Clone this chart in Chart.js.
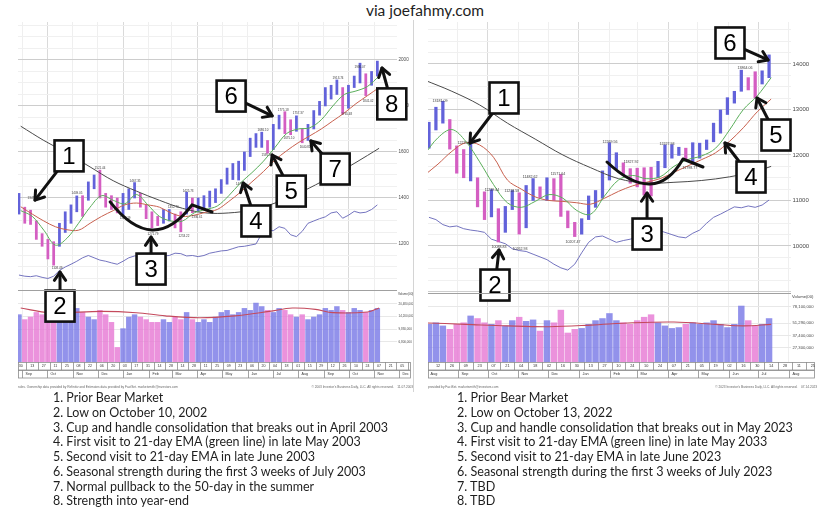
<!DOCTYPE html>
<html lang="en">
<head>
<meta charset="utf-8">
<title>Nasdaq 2002-2003 vs 2022-2023</title>
<script src="https://cdn.jsdelivr.net/npm/chart.js@4.4.1/dist/chart.umd.min.js"></script>
<style>
  html, body { margin: 0; padding: 0; background: #fff; }
  body { position: relative; width: 818px; height: 508px; overflow: hidden; font-family: Lato, "Open Sans", sans-serif; color: #1e1e1e; }
  #title { position: absolute; top: 1px; left: 16px; width: 818px; text-align: center; font-size: 15.5px; }
  canvas { position: absolute; top: 20px; }
  #c2002 { left: 0; }
  #c2023 { left: 414px; }
  #divider { position: absolute; left: 413px; top: 20px; width: 1px; height: 372px; background: #d4d4d4; }
  .notes { position: absolute; top: 390px; width: max-content; font-size: 13.5px; line-height: 14.76px; transform-origin: 0 0; white-space: nowrap; }
  #n2002 { left: 53px; }
  #n2023 { left: 457px; }
</style>
</head>
<body>
<div id="title">via joefahmy.com</div>
<canvas id="c2002" width="414" height="372"></canvas>
<canvas id="c2023" width="404" height="372"></canvas>
<div id="divider"></div>
<div id="n2002" class="notes">
  <div>1. Prior Bear Market</div>
  <div>2. Low on October 10, 2002</div>
  <div>3. Cup and handle consolidation that breaks out in April 2003</div>
  <div>4. First visit to 21-day EMA (green line) in late May 2003</div>
  <div>5. Second visit to 21-day EMA in late June 2003</div>
  <div>6. Seasonal strength during the first 3 weeks of July 2003</div>
  <div>7. Normal pullback to the 50-day in the summer</div>
  <div>8. Strength into year-end</div>
</div>
<div id="n2023" class="notes">
  <div>1. Prior Bear Market</div>
  <div>2. Low on October 13, 2022</div>
  <div>3. Cup and handle consolidation that breaks out in May 2023</div>
  <div>4. First visit to 21-day EMA (green line) in late May 2033</div>
  <div>5. Second visit to 21-day EMA in late June 2023</div>
  <div>6. Seasonal strength during the first 3 weeks of July 2023</div>
  <div>7. TBD</div>
  <div>8. TBD</div>
</div>
<script>
// ---------- 2002-2003 Nasdaq, one entry per week (week 0 = Fri 30 Aug 2002) ----------
const dayTicks2002 = ["30","13","27","11","25","08","22","06","20","03","17","31","14","28","14","28","11","25",
  "09","23","06","20","04","18","01","15","29","12","26","10","24","07","21","05","19"];
const monthNames2002 = ["Sep","Oct","Nov","Dec","Jan","Feb","Mar","Apr","May","Jun","Jul","Aug","Sep","Oct","Nov","Dec"];
const monthStarts2002 = [0.29, 4.57, 9, 13.29, 17.71, 22.14, 26.14, 30.57, 34.86, 39.29, 43.57, 48, 52.43, 56.71, 61.14, 65.43];
const priceLabels2002 = [1200, 1400, 1600, 1800, 2000];

const high2002 = [1420, 1360, 1347, 1300, 1245, 1220, 1210, 1290, 1340, 1370,
  1409, 1410, 1470, 1500, 1521, 1420, 1410, 1400, 1420, 1440,
  1467, 1420, 1370, 1340, 1320, 1350, 1350, 1330, 1340, 1425,
  1400, 1400, 1410, 1430, 1440, 1480, 1530, 1550, 1560, 1600,
  1660, 1680, 1686, 1650, 1720, 1760, 1775, 1740, 1757, 1700,
  1720, 1780, 1820, 1880, 1890, 1913, 1880, 1890, 1930, 1986,
  1940, 1950, 1995];
const low2002 = [1330, 1290, 1285, 1220, 1190, 1135, 1108, 1190, 1250, 1290,
  1340, 1320, 1390, 1440, 1400, 1360, 1350, 1335, 1327, 1350,
  1400, 1360, 1310, 1271, 1280, 1290, 1300, 1270, 1253, 1330,
  1336, 1340, 1350, 1360, 1380, 1420, 1460, 1480, 1478, 1520,
  1580, 1620, 1620, 1595, 1610, 1700, 1680, 1675, 1690, 1640,
  1650, 1700, 1760, 1800, 1830, 1850, 1765, 1790, 1880, 1900,
  1845, 1890, 1930];
// volume in millions of shares
const volume2002 = [15, 13, 14, 16, 15, 17, 19, 21, 17, 16,
  18, 16, 14, 13, 17, 15, 12, 5.8, 10, 14,
  15, 14, 13, 12, 12, 13, 12, 14, 13, 16,
  13, 12, 13, 12, 14, 16, 17, 15, 16, 18,
  17, 21, 19, 17, 16, 18, 17, 15, 14, 15,
  13, 14, 15, 18, 17, 19, 17, 16, 18, 17,
  16, 17, 18];
const rs2002 = [1065, 1060, 1058, 1062, 1055, 1050, 1060, 1085, 1100, 1112,
  1125, 1140, 1150, 1140, 1130, 1125, 1118, 1112, 1125, 1140,
  1148, 1150, 1158, 1160, 1155, 1148, 1150, 1160, 1158, 1148,
  1150, 1145, 1150, 1160, 1165, 1170, 1172, 1180, 1188, 1190,
  1195, 1200, 1245, 1262, 1258, 1275, 1268, 1240, 1232, 1255,
  1290, 1300, 1310, 1318, 1335, 1340, 1312, 1325, 1342, 1335,
  1338, 1350, 1370];
const maWeeks2002 = [0, 2, 4, 6, 8, 10, 12, 14, 16, 18, 20, 22, 24, 26, 28, 30,
  32, 34, 36, 38, 40, 42, 44, 46, 48, 50, 52, 54, 56, 58, 60, 62];
const ema21_2002 = [1345, 1320, 1260, 1195, 1225, 1290, 1360, 1410, 1390, 1375, 1415, 1370, 1320, 1300, 1300, 1335,
  1350, 1365, 1410, 1465, 1510, 1560, 1620, 1680, 1700, 1705, 1740, 1800, 1850, 1865, 1885, 1930];
const ma50_2002 = [1362, 1330, 1300, 1275, 1262, 1260, 1290, 1320, 1345, 1370, 1378, 1370, 1360, 1335, 1320, 1325,
  1338, 1350, 1385, 1425, 1470, 1515, 1565, 1605, 1640, 1670, 1700, 1735, 1770, 1810, 1845, 1880];
const ma200Weeks2002 = [0, 4, 8, 12, 16, 20, 24, 28, 32, 36, 40, 44, 48, 52, 56, 60, 62];
const ma200_2002 = [1712, 1650, 1595, 1535, 1475, 1430, 1390, 1355, 1335, 1335, 1348, 1378, 1420, 1470, 1525, 1585, 1616];
const volAvgWeeks2002 = [0, 5, 14, 20, 25, 31, 37, 43, 47, 51, 54, 60, 62];
const volAvg2002 = [18.2, 15.9, 16.5, 15.9, 14.5, 13.7, 14.5, 16.5, 18.2, 17.5, 15.9, 16.2, 18.2];
const volTicks2002 = [6.8, 9.83, 14.2, 20.48];
const peaks2002 = [[2.13, 1400, "1347.27"], [6.28, 1096, "1108.49"], [9.74, 1422, "1409.05"], [13.72, 1530, "1521.44"],
  [18.06, 1313, "1327.19"], [19.78, 1474, "1467.35"], [22.89, 1243, "1271.79"], [26.4, 1361, "1352.70"],
  [28.25, 1235, "1253.22"], [28.95, 1430, "1425.73"], [30.5, 1317, "1336.61"], [37.8, 1461, "1478"],
  [41.9, 1696, "1686.10"], [42.6, 1587, "1595.80"], [45.4, 1783, "1775.18"], [46.4, 1661, "1675.10"],
  [48, 1770, "1757.37"], [49.2, 1622, "1640.81"], [54.9, 1922, "1913.74"], [56.4, 1765, "1765.48"],
  [58.7, 1970, "1986.07"], [60.1, 1822, "1841.02"]];
// numbered call-outs: box centre and arrow tip, in (week, price)
const notes2002 = [
  {n: "1", box: [8.36, 1583], to: [2.47, 1391]},
  {n: "2", box: [6.8, 930], to: [6.8, 1078]},
  {n: "3", box: [22.55, 1091], to: [22.55, 1230]},
  {n: "4", box: [40.7, 1300], to: [38.5, 1465]},
  {n: "5", box: [46.8, 1430], to: [43.5, 1587]},
  {n: "6", box: [36.4, 1843], to: [43.5, 1757]},
  {n: "7", box: [54.4, 1526], to: [50.2, 1648]},
  {n: "8", box: [64.2, 1809], to: [62.5, 1965]}
];
const cup2002 = [[15.47, 1383], [22.72, 1261], [29.64, 1370], [33.1, 1339]];

// ---------- 2022-2023 Nasdaq, one entry per week (first entry = week -1, week 0 = Fri 12 Aug 2022) ----------
const dayTicks2023 = ["12","26","09","23","07","21","04","18","02","16","30","13","27","10","24","10","24",
  "07","21","05","19","02","16","30","14","28","11","25"];
const monthNames2023 = ["Aug","Sep","Oct","Nov","Dec","Jan","Feb","Mar","Apr","May","Jun","Jul","Aug"];
const monthStarts2023 = [-1.57, 2.86, 7.14, 11.57, 15.86, 20.29, 24.71, 28.71, 33.14, 37.43, 41.86, 46.14, 50.57];
const priceLabels2023 = [10000, 11000, 12000, 13000, 14000];

const high2023 = [12720, 13050, 13181, 12780, 12200, 12120, 12270, 11500, 11190, 11239,
  10820, 10870, 11218, 11170, 11330, 11482, 11300, 11500, 11480, 11571,
  10770, 10520, 10600, 11100, 11220, 11650, 12269, 12050, 11827, 11700,
  11710, 11720, 11730, 11860, 12220, 12228, 12170, 12150, 12270, 12260,
  12330, 12700, 12990, 13260, 13400, 13864, 13700, 13830, 13850, 14200];
const low2023 = [12150, 12550, 12700, 12130, 11600, 11500, 11430, 10860, 10580, 10640,
  10088, 10300, 10800, 10262, 10400, 11000, 11050, 11000, 11000, 10650,
  10400, 10207, 10260, 10580, 10850, 11050, 11450, 11690, 11550, 11380,
  11300, 11120, 11100, 11500, 11720, 11930, 11990, 11900, 11799, 11930,
  12120, 12290, 12480, 12890, 13140, 13400, 13430, 13250, 13560, 13700];
const volume2023 = [50, 52, 48, 44, 50, 52, 62, 58, 52, 50,
  55, 48, 55, 60, 54, 56, 42, 55, 52, 72,
  40, 44, 45, 50, 55, 58, 66, 55, 52, 50,
  55, 60, 64, 52, 48, 45, 46, 50, 52, 50,
  52, 55, 50, 46, 50, 80, 55, 48, 50, 58];
const rs2023 = [10630, 10580, 10470, 10420, 10440, 10380, 10350, 10330, 10300, 10150,
  10100, 10050, 9940, 9900, 9880, 9820, 9760, 9700, 9600, 9520,
  9470, 9600, 9850, 10080, 10200, 10220, 10150, 10080, 10120, 10150,
  10200, 10300, 10400, 10350, 10300, 10250, 10200, 10180, 10280, 10350,
  10500, 10630, 10700, 10780, 10860, 10840, 10880, 10850, 10900, 11010];
const maWeeks2023 = [-2, 0, 2, 4, 6, 8, 10, 12, 14, 16, 18, 20, 22, 24, 26, 28, 30, 32, 34, 36, 38, 40, 42, 44, 46, 48];
const ema21_2023 = [12000, 12380, 12560, 12300, 11850, 11350, 10950, 10850, 10980, 11130, 11050, 10780, 10700,
  11100, 11450, 11550, 11480, 11520, 11750, 11900, 11980, 12150, 12550, 13000, 13300, 13700];
const ma50_2023 = [11550, 11800, 12080, 12270, 12220, 11950, 11450, 11250, 11080, 11000, 10980, 10950, 10920,
  11050, 11200, 11320, 11400, 11480, 11620, 11760, 11900, 12050, 12300, 12600, 12950, 13230];
const ma200Weeks2023 = [-2, 2, 6, 10, 14, 18, 22, 26, 30, 34, 38, 42, 46, 48];
const ma200_2023 = [13650, 13400, 13100, 12700, 12350, 12000, 11720, 11480, 11380, 11400, 11440, 11520, 11650, 11750];
const volAvgWeeks2023 = [-2, 4, 10, 16, 22, 28, 34, 40, 44, 48];
const volAvg2023 = [52, 50, 48, 47, 49, 52, 53, 50, 48, 50];
const volTicks2023 = [27.3, 37.4, 51.29, 78.1];
const peaks2023 = [[0.29, 13187, "13181.09"], [3.89, 12264, "12270.64"], [7.78, 11230, "11239.44"], [8.79, 9978, "10088.83"],
  [10.66, 11209, "11218.58"], [11.82, 9934, "10262.93"], [13.26, 11516, "11482.62"], [17.29, 11582, "11571.64"],
  [19.45, 10088, "10207.47"], [24.78, 12286, "12269.56"], [27.81, 11846, "11827.92"], [33, 12242, "12227.93"],
  [36.3, 11714, "11798.77"], [44.24, 13912, "13864.06"]];
const notes2023 = [
  {n: "1", box: [9.51, 13253], to: [4.61, 12264]},
  {n: "2", box: [8.21, 9142], to: [8.79, 9912]},
  {n: "3", box: [30.12, 10263], to: [30.12, 11165]},
  {n: "4", box: [45.1, 11516], to: [41.35, 12264]},
  {n: "5", box: [48.7, 12439], to: [45.97, 13253]},
  {n: "6", box: [42.07, 14462], to: [47.55, 14088]}
];
const cup2023 = [[24.35, 11846], [30.55, 11362], [35.3, 11912], [38.18, 11736]];

const FONT = '"Liberation Sans", Arial, sans-serif';
const UP = '#6262da', DOWN = '#d45ec2';
const VOL_UP = 'rgba(122,122,230,0.82)', VOL_DOWN = 'rgba(230,122,212,0.82)';

function pts(xs, ys) { return ys.map((v, i) => ({x: xs[i], y: v})); }
function weekly(first, ys) { return ys.map((v, i) => ({x: first + i - 0.3, y: v})); }
function direction(hi, lo, up, down) {
  return hi.map((h, i) => (i === 0 || h + lo[i] >= hi[i - 1] + lo[i - 1]) ? up : down);
}

function arrow(ctx, x1, y1, x2, y2) {
  const a = Math.atan2(y2 - y1, x2 - x1), L = 10;
  ctx.beginPath();
  ctx.moveTo(x1, y1);
  ctx.lineTo(x2, y2);
  ctx.stroke();
  ctx.beginPath();
  ctx.moveTo(x2 - L * Math.cos(a - 0.6), y2 - L * Math.sin(a - 0.6));
  ctx.lineTo(x2, y2);
  ctx.lineTo(x2 - L * Math.cos(a + 0.6), y2 - L * Math.sin(a + 0.6));
  ctx.stroke();
}

function makeDecor(p) {
  return {
    id: 'decor',
    afterDatasetsDraw(chart) {
      const {ctx, scales: {x, y}} = chart;
      const X = w => x.getPixelForValue(w), Y = v => y.getPixelForValue(v);
      ctx.save();
      // small high / low figures
      ctx.fillStyle = '#3a3a3a';
      ctx.font = p.peakSize + 'px ' + FONT;
      ctx.textAlign = 'center';
      ctx.textBaseline = 'middle';
      p.peaks.forEach(([w, v, t]) => ctx.fillText(t, X(w), Y(v)));
      // cup and handle
      ctx.strokeStyle = '#111';
      ctx.lineWidth = 3;
      ctx.lineCap = 'round';
      ctx.lineJoin = 'round';
      const [s, b, e, h] = p.cup.map(([w, v]) => [X(w), Y(v)]);
      ctx.beginPath();
      ctx.moveTo(s[0], s[1]);
      ctx.quadraticCurveTo(2 * b[0] - (s[0] + e[0]) / 2, 2 * b[1] - (s[1] + e[1]) / 2, e[0], e[1]);
      ctx.lineTo(h[0], h[1]);
      ctx.stroke();
      // arrows, then boxes on top
      p.notes.forEach(n => arrow(ctx, X(n.box[0]), Y(n.box[1]), X(n.to[0]), Y(n.to[1])));
      ctx.lineWidth = 2.6;
      ctx.lineJoin = 'miter';
      ctx.font = '24px ' + FONT;
      p.notes.forEach(n => {
        const cx = X(n.box[0]), cy = Y(n.box[1]);
        ctx.fillStyle = '#fff';
        ctx.fillRect(cx - 14.5, cy - 15.5, 29, 31);
        ctx.strokeRect(cx - 14.5, cy - 15.5, 29, 31);
        ctx.fillStyle = '#000';
        ctx.fillText(n.n, cx, cy + 1);
      });
      ctx.restore();
    },
    afterDraw(chart) {
      const {ctx, chartArea: a, scales: {x, yv}} = chart;
      const L = a.left, R = chart.width - 3, T = a.bottom;
      ctx.save();
      // top rule of the volume pane
      ctx.strokeStyle = '#a0a0a0';
      ctx.lineWidth = 1;
      ctx.beginPath();
      ctx.moveTo(L, Math.round(yv.top) + 0.5);
      ctx.lineTo(a.right, Math.round(yv.top) + 0.5);
      ctx.stroke();
      ctx.fillStyle = '#444';
      ctx.font = p.volTickSize + 'px ' + FONT;
      ctx.textAlign = 'left';
      ctx.textBaseline = 'middle';
      ctx.fillText('Volume(00)', a.right + 1, yv.top + 4);
      // two date rows under the panes
      ctx.save();
      ctx.beginPath();
      ctx.rect(L, T, R - L, 17);
      ctx.clip();
      ctx.strokeStyle = '#8c8c8c';
      ctx.lineWidth = 0.8;
      ctx.strokeRect(L + 0.5, T + 0.5, R - L - 1, 7.5);
      ctx.strokeRect(L + 0.5, T + 8.5, R - L - 1, 7.5);
      ctx.fillStyle = '#333';
      ctx.font = p.dateSize + 'px ' + FONT;
      ctx.textAlign = 'center';
      p.dayTicks.forEach((t, i) => {
        ctx.fillText(t, x.getPixelForValue(2 * i), T + 4.4);
        const sx = Math.round(x.getPixelForValue(2 * i + 1)) + 0.5;
        ctx.beginPath();
        ctx.moveTo(sx, T);
        ctx.lineTo(sx, T + 8);
        ctx.stroke();
      });
      ctx.textAlign = 'left';
      p.monthStarts.forEach((m, i) => {
        const sx = Math.round(x.getPixelForValue(m)) + 0.5;
        ctx.beginPath();
        ctx.moveTo(sx, T + 8);
        ctx.lineTo(sx, T + 16);
        ctx.stroke();
        ctx.fillText(p.monthNames[i], sx + 3, T + 12.4);
      });
      ctx.restore();
      // source lines
      ctx.fillStyle = '#666';
      ctx.font = '3.2px ' + FONT;
      ctx.textAlign = 'left';
      ctx.fillText(p.footLeft, L, T + 25);
      ctx.textAlign = 'right';
      ctx.fillText(p.footRight, chart.width - 1, T + 25);
      ctx.restore();
    }
  };
}

function drawPanel(id, p) {
  const line = (data, color, width, order, tension, axis) => ({
    type: 'line', data, borderColor: color, borderWidth: width, pointRadius: 0,
    tension, order, yAxisID: axis || 'y'
  });
  const quarter = ['Jan', 'Apr', 'Jul', 'Oct'];
  return new Chart(document.getElementById(id).getContext('2d'), {
    type: 'bar',
    data: {
      datasets: [
        {
          data: p.high.map((h, i) => ({x: p.first + i - 0.3, y: [p.low[i], h]})),
          backgroundColor: direction(p.high, p.low, UP, DOWN),
          barThickness: p.barW, grouped: false, borderWidth: 0, order: 3, yAxisID: 'y'
        },
        line(pts(p.maWeeks, p.ema21), '#5aae5a', 1, 2, 0.35),
        line(pts(p.maWeeks, p.ma50), '#c8604e', 1, 2, 0.35),
        line(pts(p.ma200Weeks, p.ma200), '#4a4a4a', 1, 2, 0.35),
        line(weekly(p.first, p.rs), '#6464b8', 0.9, 4, 0),
        {
          data: weekly(p.first, p.volume),
          backgroundColor: direction(p.high, p.low, VOL_UP, VOL_DOWN),
          barThickness: p.volBarW, grouped: false, borderWidth: 0, order: 5, yAxisID: 'yv'
        },
        line(pts(p.volAvgWeeks, p.volAvg), '#c44a5c', 1.1, 1, 0.35, 'yv')
      ]
    },
    options: {
      responsive: false,
      animation: false,
      devicePixelRatio: 1,
      events: [],
      layout: {padding: {left: p.padLeft, top: 2, right: 0, bottom: 14}},
      plugins: {legend: {display: false}, tooltip: {enabled: false}},
      scales: {
        x: {
          type: 'linear', min: p.xMin, max: p.xMax, offset: false,
          afterBuildTicks: s => { s.ticks = p.monthStarts.filter(v => v >= p.xMin && v <= p.xMax).map(v => ({value: v})); },
          afterFit: s => { s.height = 16; },
          ticks: {display: false},
          grid: {
            drawTicks: false, offset: false,
            color: c => quarter.includes(p.monthNames[p.monthStarts.indexOf(c.tick.value)]) ? '#dadada' : '#efefef'
          },
          border: {display: false}
        },
        y: {
          type: 'linear', position: 'right', stack: 'pane', stackWeight: p.priceW,
          min: p.priceMin, max: p.priceMax,
          afterBuildTicks: s => {
            const t = [];
            for (let v = Math.ceil(p.priceMin / p.priceStep) * p.priceStep; v <= p.priceMax; v += p.priceStep) t.push({value: v});
            s.ticks = t;
          },
          afterFit: s => { s.width = p.axisW; s.paddingTop = 0; s.paddingBottom = 0; },
          ticks: {
            autoSkip: false, padding: 1.5, color: '#4a4a4a',
            font: {size: p.tickSize, family: FONT},
            callback: v => p.priceLabels.includes(v) ? String(v) : ''
          },
          grid: {drawTicks: false, color: c => c.tick.value % p.priceMajor === 0 ? '#cdcdcd' : '#f0f0f0'},
          border: {display: false}
        },
        yv: {
          type: 'logarithmic', position: 'right', stack: 'pane', stackWeight: p.volW,
          min: p.volMin, max: p.volMax,
          afterBuildTicks: s => { s.ticks = p.volTicks.map(v => ({value: v})); },
          afterFit: s => { s.width = p.axisW; s.paddingTop = 0; s.paddingBottom = 0; },
          ticks: {
            autoSkip: false, padding: 1.5, color: '#4a4a4a',
            font: {size: p.volTickSize, family: FONT},
            callback: v => Math.round(v * 1e6).toLocaleString('en-US')
          },
          grid: {drawTicks: false, color: '#e8e8e8'},
          border: {display: false}
        }
      }
    },
    plugins: [makeDecor(p)]
  });
}

drawPanel('c2002', {
  first: 0, xMin: -0.47, xMax: 65.1, padLeft: 18, axisW: 17, barW: 2.1, volBarW: 4.8,
  priceMin: 1000, priceMax: 2165, priceStep: 50, priceMajor: 200, priceW: 268, volW: 72,
  volMin: 3.8, volMax: 30.7, tickSize: 4.6, volTickSize: 3, peakSize: 3, dateSize: 3.6,
  high: high2002, low: low2002, volume: volume2002, rs: rs2002, priceLabels: priceLabels2002,
  maWeeks: maWeeks2002, ema21: ema21_2002, ma50: ma50_2002,
  ma200Weeks: ma200Weeks2002, ma200: ma200_2002,
  volAvgWeeks: volAvgWeeks2002, volAvg: volAvg2002, volTicks: volTicks2002,
  dayTicks: dayTicks2002, monthNames: monthNames2002, monthStarts: monthStarts2002,
  peaks: peaks2002, notes: notes2002, cup: cup2002,
  footLeft: 'rules. Ownership data provided by Refinitiv and Estimates data provided by FactSet. marketsmith@investors.com',
  footRight: '\u00a9 2003 Investor\u2019s Business Daily, LLC. All rights reserved.    11.07.2003'
});

drawPanel('c2023', {
  first: -1, xMin: -1.44, xMax: 50.86, padLeft: 14, axisW: 27, barW: 2.6, volBarW: 5.8,
  priceMin: 8967, priceMax: 14923, priceStep: 250, priceMajor: 1000, priceW: 271, volW: 69,
  volMin: 19, volMax: 111.8, tickSize: 6, volTickSize: 4.2, peakSize: 3.6, dateSize: 3.8,
  high: high2023, low: low2023, volume: volume2023, rs: rs2023, priceLabels: priceLabels2023,
  maWeeks: maWeeks2023, ema21: ema21_2023, ma50: ma50_2023,
  ma200Weeks: ma200Weeks2023, ma200: ma200_2023,
  volAvgWeeks: volAvgWeeks2023, volAvg: volAvg2023, volTicks: volTicks2023,
  dayTicks: dayTicks2023, monthNames: monthNames2023, monthStarts: monthStarts2023,
  peaks: peaks2023, notes: notes2023, cup: cup2023,
  footLeft: 'provided by FactSet. marketsmith@investors.com',
  footRight: '\u00a9 2023 Investor\u2019s Business Daily, LLC. All rights reserved.    07.14.2023'
});

// squeeze the note lists to the width they take in the picture
function fitNotes(id, width) {
  const el = document.getElementById(id);
  const w = el.getBoundingClientRect().width;
  el.style.transform = 'scaleX(' + (width / w).toFixed(3) + ')';
}
fitNotes('n2002', 335);
fitNotes('n2023', 336);
</script>
</body>
</html>
